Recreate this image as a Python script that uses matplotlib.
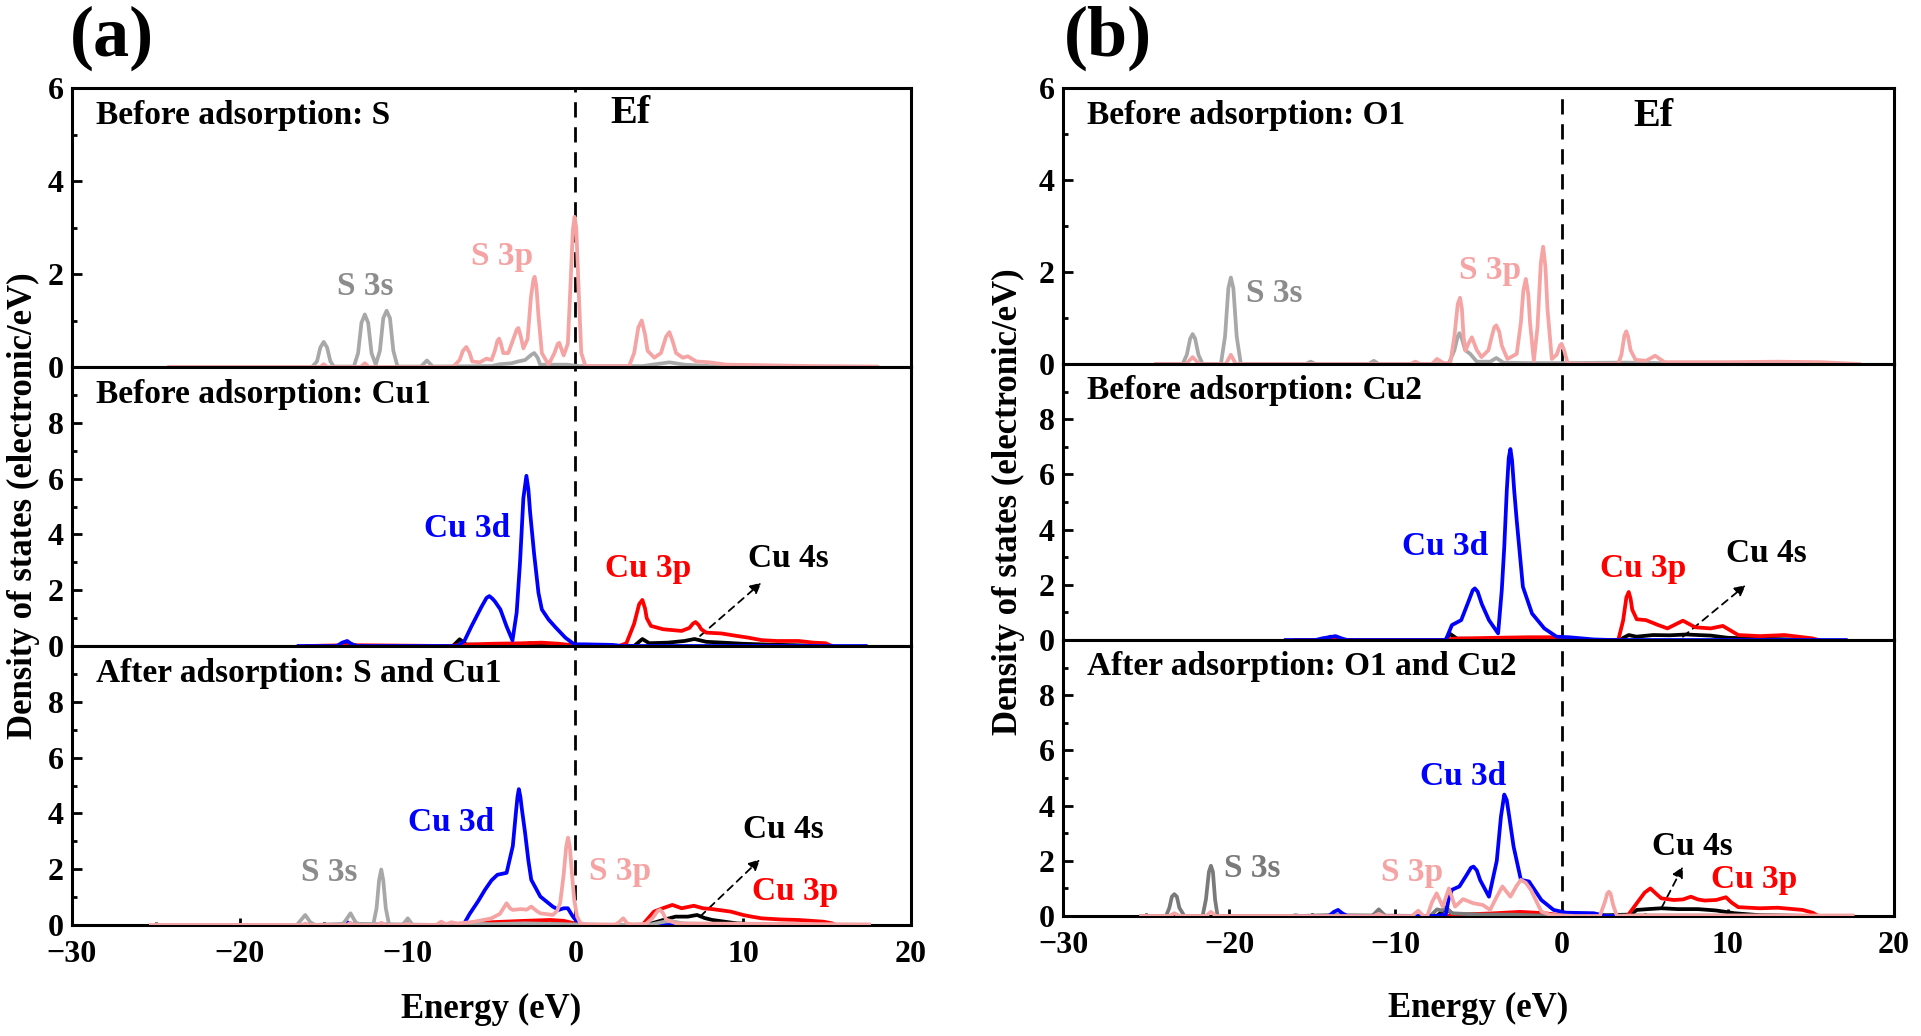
import matplotlib
matplotlib.use("Agg")
import matplotlib.pyplot as plt
from matplotlib.ticker import MultipleLocator

plt.rcParams['font.family'] = ['Liberation Serif', 'DejaVu Serif']
plt.rcParams['font.weight'] = 'bold'
plt.rcParams['axes.linewidth'] = 2.2

# ---------------- data (energy eV, DOS electronic/eV) ----------------
# Panel (a) top: Before adsorption: S
a1_s3s = [(-24.2,0),(-15.7,0),(-15.4,0.12),(-15.2,0.42),(-15.0,0.54),(-14.8,0.42),(-14.6,0.12),(-14.4,0.01),
          (-13.2,0.01),(-12.95,0.3),(-12.75,0.95),(-12.55,1.13),(-12.35,0.95),(-12.15,0.3),(-11.9,0.05),
          (-11.65,0.35),(-11.45,1.05),(-11.25,1.21),(-11.05,1.05),(-10.85,0.35),(-10.6,0.01),
          (-9.2,0.01),(-8.85,0.14),(-8.5,0.01),(-5,0.02),(-4.5,0.06),(-3.8,0.08),(-3.4,0.12),
          (-3.0,0.15),(-2.6,0.27),(-2.45,0.30),(-2.25,0.2),(-2.1,0.05),(-0.5,0.05),(0.2,0.02),(4,0.02),
          (5.6,0.1),(6.5,0.05),(8,0.02),(18,0)]
a1_s3p = [(-24.2,0),(-15.2,0),(-15.0,0.06),(-14.8,0),(-12.8,0),(-12.55,0.08),(-12.3,0),(-7.3,0),
          (-6.9,0.15),(-6.7,0.35),(-6.5,0.43),(-6.3,0.3),(-6.15,0.12),(-5.7,0.1),(-5.3,0.18),(-5.0,0.15),
          (-4.8,0.35),(-4.65,0.56),(-4.55,0.61),(-4.45,0.52),(-4.3,0.3),(-4.0,0.3),(-3.7,0.6),
          (-3.5,0.8),(-3.4,0.84),(-3.25,0.65),(-3.1,0.4),(-2.85,0.6),(-2.65,1.5),(-2.5,1.88),(-2.43,1.94),
          (-2.33,1.75),(-2.2,1.1),(-2.0,0.3),(-1.6,0.05),(-1.25,0.3),(-1.05,0.5),(-0.96,0.52),
          (-0.8,0.35),(-0.7,0.25),(-0.45,0.5),(-0.3,1.7),(-0.15,2.95),(-0.05,3.23),(0.05,3.0),
          (0.2,1.6),(0.35,0.3),(0.6,0.02),(3.2,0.02),(3.5,0.3),(3.75,0.85),(3.95,1.0),(4.15,0.7),
          (4.3,0.35),(4.7,0.2),(5.1,0.3),(5.4,0.65),(5.6,0.75),(5.8,0.55),(6.0,0.3),(6.4,0.2),
          (6.7,0.23),(7.2,0.12),(8.0,0.1),(9,0.05),(11,0.04),(14,0.02),(17.9,0.01)]

# Panel (a) middle: Before adsorption: Cu1
a2_cu3d = [(-16.5,0),(-14.2,0),(-13.9,0.12),(-13.6,0.18),(-13.3,0.05),(-13.0,0),(-7.0,0),(-6.6,0.2),
           (-6.2,0.7),(-5.6,1.4),(-5.3,1.72),(-5.13,1.79),(-4.95,1.7),(-4.8,1.6),(-4.47,1.31),(-4.1,0.7),
           (-3.75,0.2),(-3.5,1.2),(-3.3,3.0),(-3.1,5.3),(-2.92,6.1),(-2.8,5.6),(-2.7,4.8),(-2.46,3.3),
           (-2.2,1.9),(-2.0,1.31),(-1.6,0.95),(-1.17,0.66),(-0.6,0.3),(-0.07,0.06),(0.5,0.06),
           (2.2,0.04),(2.8,0.0),(17.3,0)]
a2_cu3p = [(-16,0),(-13.6,0.03),(-7.5,0),(-6.5,0.05),(-5,0.08),(-3,0.1),(-2,0.12),(-1,0.08),(0,0.02),
           (2.6,0),(3.04,0.1),(3.5,0.8),(3.8,1.5),(3.99,1.65),(4.15,1.35),(4.25,1.0),(4.5,0.72),
           (5.23,0.6),(6.33,0.54),(6.8,0.65),(7.0,0.8),(7.16,0.86),(7.35,0.75),(7.5,0.6),(7.79,0.48),
           (8.7,0.45),(9.63,0.36),(10.3,0.3),(11.1,0.21),(12,0.18),(13.3,0.18),(14.2,0.12),(14.9,0.1),
           (15.3,0)]
a2_cu4s = [(-14.2,0),(-13.6,0.12),(-13.0,0),(-7.3,0),(-6.9,0.24),(-6.5,0.05),(-3.5,0.03),(-2.7,0.1),
           (-2.0,0.04),(0,0),(3.5,0),(3.99,0.25),(4.4,0.1),(5.5,0.12),(6.5,0.18),(7.1,0.25),(7.8,0.15),
           (8.8,0.12),(10,0.08),(11.5,0.05),(13,0.03),(15,0)]

# Panel (a) bottom: After adsorption: S and Cu1
a3_s3s = [(-25,0),(-16.6,0),(-16.35,0.18),(-16.1,0.36),(-15.8,0.1),(-15.5,0),(-13.9,0),(-13.65,0.2),
          (-13.4,0.42),(-13.1,0.1),(-12.8,0),(-12.05,0),(-11.85,0.6),(-11.7,1.6),(-11.57,1.99),
          (-11.45,1.6),(-11.3,0.6),(-11.1,0),(-10.3,0),(-9.99,0.24),(-9.7,0),(-7.5,0),(-6.9,0.05),
          (-5,0.03),(-3,0.06),(-1,0.03),(2,0),(4.5,0.02),(5.56,0.15),(6.5,0.05),(9,0.02),(17.5,0)]
a3_s3p = [(-25.3,0),(-16.3,0),(-16.1,0.05),(-15.9,0),(-13.6,0),(-13.4,0.08),(-13.2,0),(-11.8,0),
          (-11.57,0.08),(-11.3,0),(-10.2,0),(-10.0,0.05),(-9.8,0),(-8.3,0),(-8.0,0.12),(-7.7,0.02),
          (-7.4,0.1),(-7.0,0.05),(-6.0,0.12),(-5.0,0.24),(-4.5,0.4),(-4.1,0.78),(-3.9,0.6),(-3.73,0.54),
          (-3.26,0.57),(-2.9,0.55),(-2.63,0.66),(-2.3,0.5),(-2.09,0.42),(-1.6,0.38),(-1.35,0.36),
          (-1.1,0.5),(-0.91,0.78),(-0.7,1.8),(-0.55,2.8),(-0.44,3.13),(-0.33,2.8),(-0.2,1.8),
          (-0.07,0.9),(0.1,0.3),(0.3,0.06),(0.8,0.02),(2.4,0.02),(2.6,0.1),(2.85,0.24),(3.1,0.05),
          (3.4,0.02),(4.2,0.04),(4.6,0.25),(4.9,0.5),(5.05,0.54),(5.2,0.45),(5.4,0.2),(6,0.06),
          (8,0.05),(12,0.04),(17.5,0.02)]
a3_cu3d = [(-16.2,0),(-13.9,0),(-13.6,0.1),(-13.3,0),(-7.5,0),(-6.66,0.02),(-6.3,0.4),(-5.8,0.85),
           (-5.39,1.26),(-5.0,1.6),(-4.65,1.8),(-4.1,1.87),(-3.73,2.83),(-3.55,4.0),(-3.45,4.6),
           (-3.37,4.87),(-3.28,4.6),(-3.2,4.2),(-3.0,3.31),(-2.8,2.3),(-2.63,1.62),(-2.09,1.02),
           (-1.35,0.66),(-0.99,0.54),(-0.7,0.6),(-0.45,0.6),(-0.2,0.35),(-0.07,0.24),(0.3,0.0),(17.3,0)]
a3_cu3p = [(-16,0),(-7.5,0),(-6.5,0.05),(-5,0.1),(-3,0.15),(-1.5,0.18),(-0.7,0.15),(0,0.05),(0.5,0),
           (4.0,0),(4.13,0.1),(4.68,0.48),(5.2,0.6),(5.78,0.72),(6.33,0.6),(7.06,0.69),(7.6,0.6),
           (8.16,0.57),(9.26,0.48),(9.99,0.36),(10.5,0.3),(11.09,0.24),(12.2,0.2),(13.3,0.18),
           (14.76,0.12),(15.3,0.06),(15.5,0)]
a3_cu4s = [(-16,0),(-13.6,0.02),(-7,0),(-6.5,0.03),(-3,0.05),(0,0.01),(4,0),(4.5,0.05),(5.23,0.18),
           (5.97,0.3),(6.7,0.3),(7.25,0.36),(7.7,0.25),(8.16,0.18),(9.6,0.06),(11,0.02),(14,0)]

# Panel (b) top: Before adsorption: O1
b1_s3s = [(-24.4,0),(-22.8,0),(-22.55,0.2),(-22.35,0.55),(-22.2,0.65),(-22.05,0.55),(-21.85,0.2),
          (-21.6,0),(-20.5,0),(-20.25,0.6),(-20.05,1.65),(-19.9,1.88),(-19.75,1.65),(-19.55,0.6),
          (-19.3,0),(-15.4,0),(-15.1,0.05),(-14.8,0),(-11.6,0),(-11.3,0.07),(-11.0,0),(-6.8,0),
          (-6.45,0.3),(-6.25,0.6),(-6.15,0.67),(-6.0,0.55),(-5.8,0.3),(-5.5,0.22),(-5.1,0.05),
          (-4.3,0.05),(-3.93,0.13),(-3.5,0.03),(-2,0.02),(0,0.02),(3.9,0.03),(6,0.02),(6.5,0)]
b1_s3p = [(-24.4,0),(-22.6,0),(-22.2,0.15),(-21.8,0),(-20.2,0),(-19.9,0.2),(-19.6,0),(-9.1,0),
          (-8.8,0.05),(-8.5,0),(-7.8,0),(-7.5,0.11),(-7.1,0.02),(-6.7,0.02),(-6.45,0.6),(-6.25,1.3),
          (-6.11,1.44),(-6.0,1.2),(-5.9,0.6),(-5.78,0.29),(-5.6,0.45),(-5.4,0.58),(-5.1,0.3),
          (-4.82,0.15),(-4.4,0.3),(-4.2,0.6),(-4.05,0.8),(-3.93,0.84),(-3.75,0.7),(-3.6,0.4),
          (-3.26,0.11),(-2.9,0.18),(-2.7,0.22),(-2.45,0.9),(-2.3,1.6),(-2.15,1.85),(-2.0,1.5),
          (-1.9,0.9),(-1.67,0.07),(-1.45,0.8),(-1.25,2.2),(-1.11,2.55),(-0.97,2.1),(-0.85,1.2),
          (-0.59,0.11),(-0.3,0.2),(-0.1,0.4),(0.0,0.44),(0.15,0.3),(0.37,0.01),(3.4,0.0),(3.6,0.2),
          (3.78,0.62),(3.89,0.71),(4.0,0.6),(4.15,0.3),(4.45,0.09),(5.08,0.07),(5.63,0.18),(6.19,0.04),
          (10,0.04),(13,0.05),(15.6,0.04),(17.9,0)]

# Panel (b) middle: Before adsorption: Cu2
b2_cu3d = [(-16.6,0),(-14.8,0),(-14.4,0.06),(-14.0,0.1),(-13.6,0.14),(-13.2,0.05),(-12.9,0),
           (-6.97,0),(-6.6,0.54),(-6.04,0.72),(-5.6,1.4),(-5.35,1.8),(-5.22,1.87),(-5.05,1.75),
           (-4.8,1.3),(-4.37,0.72),(-3.82,0.24),(-3.6,1.8),(-3.45,3.37),(-3.3,5.4),(-3.18,6.6),
           (-3.08,6.92),(-2.98,6.5),(-2.85,5.4),(-2.7,4.33),(-2.33,1.93),(-1.78,0.96),(-1.04,0.42),
           (-0.3,0.12),(0.44,0.1),(1.93,0.02),(3.04,0),(17.1,0)]
b2_cu3p = [(-16,0),(-14.2,0),(-13.9,0.05),(-13.5,0),(-7,0),(-6.5,0.05),(-4,0.08),(-2,0.1),
           (-0.5,0.1),(0.3,0.03),(1,0),(3.41,0),(3.7,0.7),(3.9,1.55),(4.04,1.74),(4.15,1.5),
           (4.25,1.1),(4.52,0.75),(5.08,0.72),(5.82,0.54),(6.37,0.42),(6.8,0.55),(7.3,0.7),(8.04,0.46),
           (8.97,0.42),(9.7,0.51),(10.63,0.18),(11.93,0.14),(13.4,0.18),(15.08,0.06),(15.45,0)]
b2_cu4s = [(-16,0),(-14.2,0),(-13.9,0.12),(-13.5,0),(-7,0),(-6.7,0.22),(-6.3,0.05),(-4,0.03),
           (-1,0.03),(0,0),(3.5,0),(3.78,0.1),(4.04,0.18),(4.5,0.12),(5.5,0.18),(6.5,0.17),(7.5,0.2),
           (8.2,0.18),(8.97,0.16),(10,0.08),(11.9,0.05),(15,0)]

# Panel (b) bottom: After adsorption: O1 and Cu2
b3_s3s = [(-25.3,0),(-23.8,0),(-23.6,0.3),(-23.45,0.7),(-23.3,0.79),(-23.15,0.7),(-23.0,0.3),
          (-22.7,0),(-21.6,0),(-21.4,0.6),(-21.22,1.6),(-21.1,1.82),(-20.98,1.6),(-20.85,0.6),
          (-20.7,0),(-16.2,0),(-16.0,0.03),(-15.8,0),(-11.4,0),(-11.0,0.24),(-10.6,0),(-7.9,0),
          (-7.5,0.24),(-7.2,0.2),(-6.97,0.32),(-6.6,0.1),(-5,0.05),(-3,0.05),(-1,0.01),(3,0.02),
          (17.5,0)]
b3_s3p = [(-25.3,0),(-23.6,0),(-23.3,0.1),(-23.0,0),(-21.4,0),(-21.1,0.15),(-20.8,0),(-11.3,0),
          (-11.0,0.08),(-10.7,0),(-9.0,0),(-8.63,0.19),(-8.3,0),(-8.08,0),(-7.8,0.5),(-7.52,0.82),
          (-7.15,0.34),(-6.78,1.0),(-6.41,0.34),(-5.93,0.61),(-5.3,0.46),(-4.74,0.4),(-4.3,0.22),
          (-3.9,0.7),(-3.56,1.07),(-3.08,0.7),(-2.7,1.1),(-2.45,1.31),(-2.15,1.2),(-1.85,0.95),
          (-1.22,0.16),(-0.67,0.04),(0.82,0),(2.3,0),(2.6,0.5),(2.75,0.82),(2.85,0.88),(2.95,0.8),
          (3.1,0.4),(3.33,0),(5,0.02),(17.5,0.02)]
b3_cu3d = [(-16,0),(-14,0),(-13.7,0.15),(-13.45,0.22),(-13.2,0.1),(-12.9,0),(-7.7,0),(-6.97,0.05),
           (-6.8,0.6),(-6.6,0.95),(-6.15,1.07),(-5.7,1.5),(-5.45,1.75),(-5.3,1.79),(-5.1,1.65),
           (-4.9,1.3),(-4.37,0.7),(-3.9,2.0),(-3.65,3.6),(-3.45,4.4),(-3.3,4.2),(-3.15,3.6),
           (-2.89,2.52),(-2.45,1.31),(-1.96,1.25),(-1.22,0.58),(-0.48,0.22),(0.26,0.12),(1.93,0.1),
           (2.67,0),(17.2,0)]
b3_cu3p = [(-16,0),(-7,0),(-6,0.05),(-4,0.1),(-2.5,0.15),(-1,0.1),(0,0.02),(0.5,0),(3.96,0),
           (4.52,0.46),(5.0,0.85),(5.34,1.0),(5.7,0.8),(6.0,0.64),(6.74,0.58),(7.3,0.6),(7.78,0.7),
           (8.2,0.6),(8.6,0.56),(9.3,0.58),(9.89,0.68),(10.2,0.5),(10.63,0.32),(11.93,0.28),
           (13.0,0.3),(14.5,0.22),(15.1,0.12),(15.45,0)]
b3_cu4s = [(-16,0),(-14,0.02),(-7.5,0),(-6.97,0.28),(-6.5,0.05),(-4,0.05),(-1,0.02),(0,0),
           (4.15,0.05),(4.52,0.22),(5.2,0.25),(6.0,0.28),(7,0.25),(8.2,0.25),(9.3,0.2),(10.4,0.1),
           (11.9,0.03),(15,0)]

panel_titles_a = ["Before adsorption: S", "Before adsorption: Cu1", "After adsorption: S and Cu1"]
panel_titles_b = ["Before adsorption: O1", "Before adsorption: Cu2", "After adsorption: O1 and Cu2"]
x_ticks = [-30, -20, -10, 0, 10, 20]
y_ticks_top = [0, 2, 4, 6]
y_ticks_lower = [0, 2, 4, 6, 8]

# ---------------- styles ----------------
C_S3S = '#a8a8a8'
C_S3S_DARK = '#7a7a7a'
C_S3P = '#f5a3a3'
C_3D = '#0000ff'
C_3P = '#ff0000'
C_4S = '#000000'
LW = 2.7
FS_TICK = 23
FS_TXT = 24

fig = plt.figure(figsize=(19.21, 10.36), dpi=100)
W, H = 1921.0, 1036.0


def make_axes(left, right, top, bottom):
    h = (bottom - top) / 3.0
    axs = []
    for i in range(3):
        t = top + i * h
        ax = fig.add_axes([left / W, 1 - (t + h) / H, (right - left) / W, h / H])
        axs.append(ax)
    return axs


def curve(ax, pts, color, z):
    ax.plot([p[0] for p in pts], [p[1] for p in pts], color=color, lw=LW, zorder=z,
            solid_joinstyle='round')


def style(ax, ymax, yt, bottom_panel):
    ax.set_xlim(-30, 20)
    ax.set_ylim(0, ymax)
    ax.set_yticks(yt)
    ax.yaxis.set_minor_locator(MultipleLocator(1))
    ax.tick_params(axis='y', which='major', direction='in', length=7, width=2, labelsize=FS_TICK,
                   pad=6, right=False)
    ax.tick_params(axis='y', which='minor', direction='in', length=3.5, width=2, right=False)
    if bottom_panel:
        ax.set_xticks(x_ticks)
        ax.xaxis.set_minor_locator(MultipleLocator(5))
        ax.tick_params(axis='x', which='major', direction='in', length=5, width=2,
                       labelsize=FS_TICK, pad=11, top=False)
        ax.tick_params(axis='x', which='minor', direction='in', length=2.5, width=2, top=False)
    else:
        ax.set_xticks([])
    ax.axvline(0, color='k', lw=2.0, ls='--', dashes=(5.5, 3.5), zorder=1)
    for lab in ax.get_xticklabels() + ax.get_yticklabels():
        lab.set_fontweight('bold')


def label(ax, x, y, s, color, size=FS_TXT):
    ax.text(x, y, s, color=color, fontsize=size, fontweight='bold', ha='left', va='baseline')


def arrow(ax, start, end):
    ax.annotate('', xy=end, xytext=start,
                arrowprops=dict(arrowstyle='-|>', color='k', lw=1.3, ls=(0, (4, 3)),
                                mutation_scale=16, shrinkA=0, shrinkB=0))


# ---------------- panel (a) ----------------
axa = make_axes(72, 911, 88, 925)
for i, ax in enumerate(axa):
    style(ax, 6 if i == 0 else 10, y_ticks_top if i == 0 else y_ticks_lower, i == 2)
    ax.text(0.029, 0.87 if i == 0 else 0.872, panel_titles_a[i], transform=ax.transAxes,
            fontsize=FS_TXT, fontweight='bold', ha='left', va='baseline')

curve(axa[0], a1_s3s, C_S3S, 3)
curve(axa[0], a1_s3p, C_S3P, 4)
label(axa[0], -14.2, 1.55, 'S 3s', '#8c8c8c')
label(axa[0], -6.2, 2.19, 'S 3p', C_S3P)
label(axa[0], 2.1, 5.25, 'Ef', 'k', 29)

curve(axa[1], a2_cu4s, C_4S, 3)
curve(axa[1], a2_cu3p, C_3P, 4)
curve(axa[1], a2_cu3d, C_3D, 5)
label(axa[1], -9.0, 3.9, 'Cu 3d', C_3D)
label(axa[1], 1.75, 2.46, 'Cu 3p', C_3P)
label(axa[1], 10.3, 2.82, 'Cu 4s', 'k')
arrow(axa[1], (7.43, 0.36), (11.08, 2.27))

curve(axa[2], a3_cu4s, C_4S, 3)
curve(axa[2], a3_cu3p, C_3P, 4)
curve(axa[2], a3_cu3d, C_3D, 5)
curve(axa[2], a3_s3s, C_S3S, 6)
curve(axa[2], a3_s3p, C_S3P, 7)
label(axa[2], -9.99, 3.37, 'Cu 3d', C_3D)
label(axa[2], -16.35, 1.56, 'S 3s', '#8c8c8c')
label(axa[2], 0.84, 1.62, 'S 3p', C_S3P)
label(axa[2], 9.99, 3.13, 'Cu 4s', 'k')
label(axa[2], 10.5, 0.9, 'Cu 3p', C_3P)
arrow(axa[2], (7.43, 0.3), (11.0, 2.35))

# ---------------- panel (b) ----------------
axb = make_axes(1063, 1894, 88, 916)
for i, ax in enumerate(axb):
    style(ax, 6 if i == 0 else 10, y_ticks_top if i == 0 else y_ticks_lower, i == 2)
    ax.text(0.029, 0.87 if i == 0 else 0.872, panel_titles_b[i], transform=ax.transAxes,
            fontsize=FS_TXT, fontweight='bold', ha='left', va='baseline')

curve(axb[0], b1_s3s, C_S3S, 3)
curve(axb[0], b1_s3p, C_S3P, 4)
label(axb[0], -19.0, 1.35, 'S 3s', '#8c8c8c')
label(axb[0], -6.15, 1.85, 'S 3p', C_S3P)
label(axb[0], 4.3, 5.18, 'Ef', 'k', 29)

curve(axb[1], b2_cu4s, C_4S, 3)
curve(axb[1], b2_cu3p, C_3P, 4)
curve(axb[1], b2_cu3d, C_3D, 5)
label(axb[1], -9.6, 3.07, 'Cu 3d', C_3D)
label(axb[1], 2.3, 2.29, 'Cu 3p', C_3P)
label(axb[1], 9.9, 2.83, 'Cu 4s', 'k')
arrow(axb[1], (7.3, 0.12), (11.08, 1.99))

curve(axb[2], b3_cu4s, C_4S, 3)
curve(axb[2], b3_cu3p, C_3P, 4)
curve(axb[2], b3_s3s, C_S3S_DARK, 5)
curve(axb[2], b3_cu3d, C_3D, 6)
curve(axb[2], b3_s3p, C_S3P, 7)
label(axb[2], -8.5, 4.76, 'Cu 3d', C_3D)
label(axb[2], -20.3, 1.43, 'S 3s', C_S3S_DARK)
label(axb[2], -10.86, 1.25, 'S 3p', C_S3P)
label(axb[2], 5.45, 2.22, 'Cu 4s', 'k')
label(axb[2], 8.97, 1.0, 'Cu 3p', C_3P)
arrow(axb[2], (6.0, 0.28), (7.3, 1.79))

# ---------------- figure texts ----------------
fig.text(70 / W, 1 - 6 / H, '(a)', fontsize=52, fontweight='bold', ha='left', va='top')
fig.text(1064 / W, 1 - 6 / H, '(b)', fontsize=52, fontweight='bold', ha='left', va='top')
fig.text(23 / W, 1 - 506 / H, 'Density of states (electronic/eV)', rotation=90,
         fontsize=25, fontweight='bold', ha='center', va='center')
fig.text(1008 / W, 1 - 502 / H, 'Density of states (electronic/eV)', rotation=90,
         fontsize=25, fontweight='bold', ha='center', va='center')
fig.text(491 / W, 1 - 1009 / H, 'Energy (eV)', fontsize=25, fontweight='bold',
         ha='center', va='center')
fig.text(1478 / W, 1 - 1008 / H, 'Energy (eV)', fontsize=25, fontweight='bold',
         ha='center', va='center')

fig.savefig('out.png', dpi=100, facecolor='white')
